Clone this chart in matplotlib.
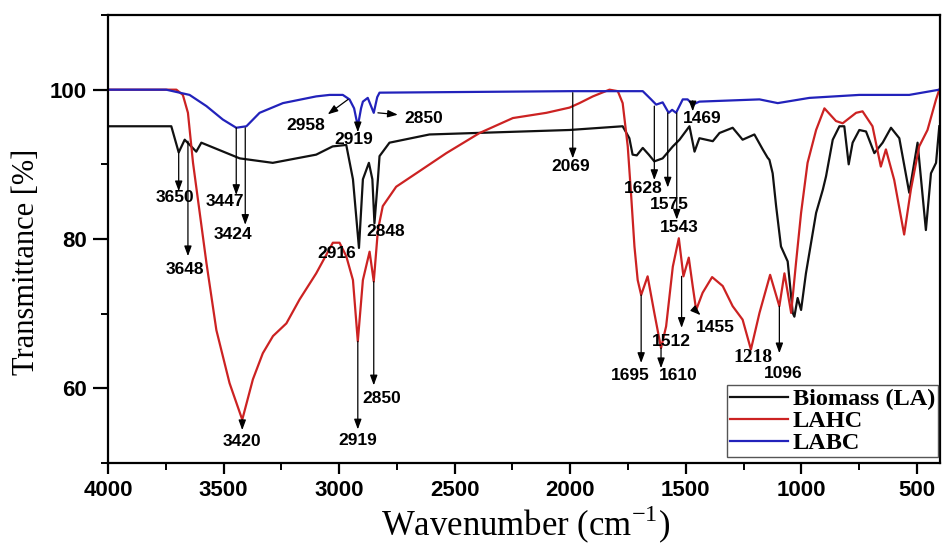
import matplotlib
matplotlib.use("Agg")
import matplotlib.pyplot as plt
from matplotlib.ticker import MultipleLocator

# Biomass (LA) spectrum
biomass_wn = [4000, 3726, 3694, 3668, 3618, 3596, 3430, 3287, 3099, 3028, 2969, 2940,
              2914, 2897, 2871, 2856, 2847, 2832, 2825, 2782, 2609, 2004, 1773, 1744,
              1730, 1712, 1686, 1660, 1636, 1600, 1556, 1527, 1484, 1462, 1441, 1383,
              1354, 1297, 1254, 1203, 1167, 1146, 1138, 1124, 1109, 1088, 1059, 1037,
              1030, 1016, 1001, 980, 936, 907, 893, 864, 835, 814, 795, 778, 749, 720,
              684, 648, 612, 576, 533, 497, 461, 439, 417, 403]
biomass_t = [95.1, 95.1, 91.6, 93.3, 91.7, 92.9, 90.8, 90.2, 91.3, 92.4, 92.6, 88.0,
             78.8, 88.0, 90.2, 88.0, 82.1, 88.0, 91.1, 92.9, 94.0, 94.6, 95.1, 93.5,
             91.3, 91.2, 92.2, 91.3, 90.4, 90.8, 92.4, 93.3, 95.1, 91.7, 93.5, 93.1,
             94.2, 94.9, 93.3, 94.0, 92.0, 90.9, 90.6, 88.8, 84.4, 79.0, 77.0, 70.1,
             69.6, 72.1, 70.5, 75.4, 83.5, 86.6, 88.4, 93.3, 95.1, 95.1, 90.0, 92.9,
             94.6, 94.4, 91.5, 92.9, 94.9, 93.5, 86.2, 92.9, 81.2, 88.8, 90.2, 95.1]

# LAHC spectrum
lahc_wn = [4000, 3704, 3676, 3654, 3632, 3603, 3574, 3531, 3474, 3419, 3373, 3330,
           3286, 3228, 3171, 3099, 3027, 2998, 2969, 2940, 2919, 2897, 2868, 2850,
           2832, 2811, 2753, 2666, 2536, 2392, 2248, 2103, 2003, 1960, 1902, 1830,
           1794, 1773, 1751, 1736, 1722, 1708, 1693, 1665, 1636, 1607, 1585, 1556,
           1530, 1510, 1487, 1470, 1455, 1427, 1386, 1340, 1297, 1254, 1218, 1181,
           1135, 1095, 1073, 1044, 1023, 1001, 973, 936, 900, 850, 821, 763, 735,
           692, 656, 634, 598, 555, 526, 490, 454, 417, 403]
lahc_t = [100.0, 100.0, 99.3, 96.9, 90.2, 83.5, 76.8, 67.8, 60.7, 55.8, 61.2, 64.7,
          67.0, 68.7, 71.9, 75.4, 79.5, 79.5, 77.7, 74.5, 66.3, 74.5, 78.3, 74.3,
          81.2, 84.4, 87.0, 88.8, 91.5, 94.2, 96.2, 96.9, 97.6, 98.2, 99.1, 100.0,
          99.8, 98.2, 92.4, 85.7, 79.0, 74.5, 72.5, 75.0, 70.1, 65.4, 68.3, 76.3,
          80.1, 75.0, 77.5, 73.7, 70.5, 72.8, 74.9, 73.7, 71.0, 69.2, 65.2, 70.1,
          75.2, 71.0, 75.4, 70.1, 76.8, 83.5, 90.2, 94.6, 97.5, 95.8, 95.5, 96.9, 97.1,
          95.1, 89.7, 92.0, 87.9, 80.6, 86.6, 92.4, 94.6, 98.7, 100.0]

# LABC spectrum
labc_wn = [4000, 3748, 3647, 3574, 3503, 3445, 3401, 3344, 3243, 3099, 3041, 2984,
           2955, 2935, 2919, 2905, 2897, 2876, 2850, 2835, 2825, 2004, 1686, 1650,
           1628, 1600, 1574, 1559, 1542, 1513, 1492, 1470, 1441, 1181, 1102, 965,
           749, 533, 403]
labc_t = [100.0, 100.0, 99.3, 97.8, 96.0, 94.9, 95.1, 96.9, 98.2, 99.1, 99.3, 99.3,
          98.7, 97.5, 95.1, 97.5, 98.4, 98.9, 96.9, 99.0, 99.6, 99.8, 99.8, 98.7,
          98.0, 98.3, 96.9, 97.3, 96.9, 98.7, 98.7, 98.0, 98.4, 98.7, 98.2, 98.9,
          99.3, 99.3, 100.0]

series_names = ["Biomass (LA)", "LAHC", "LABC"]
series_colors = ["#111111", "#cc2222", "#2222bb"]

# peak labels: text, arrow x, arrow start y, arrow end y, text x, text y
peak_arrows = [
    ("3650", 3694, 91.6, 86.4, 3711, 85.6),
    ("3648", 3654, 93.1, 77.7, 3668, 75.9),
    ("3447", 3445, 94.9, 85.9, 3495, 85.0),
    ("3424", 3406, 94.9, 81.9, 3459, 80.6),
    ("3420", 3419, 55.8, 54.4, 3419, 52.9),
    ("2919", 2919, 95.1, 94.3, 2935, 93.3),
    ("2919", 2919, 66.3, 54.5, 2919, 53.0),
    ("2850", 2850, 74.3, 60.4, 2815, 58.7),
    ("2069", 1989, 99.6, 90.8, 1996, 89.7),
    ("1628", 1636, 97.8, 87.9, 1683, 86.8),
    ("1575", 1578, 96.9, 86.9, 1571, 84.6),
    ("1543", 1539, 96.9, 82.6, 1528, 81.6),
    ("1469", 1470, 98.5, 97.1, 1427, 96.2),
    ("1695", 1693, 72.5, 63.4, 1741, 61.7),
    ("1610", 1607, 65.4, 62.7, 1532, 61.7),
    ("1512", 1518, 75.0, 68.1, 1561, 66.3),
    ("1096", 1095, 71.0, 64.7, 1078, 62.0),
]
# labels with a slanted arrow: text, tail x, tail y, head x, head y, text x, text y
slant_arrows = [
    ("2958", 2961, 98.7, 3049, 96.7, 3146, 95.2),
    ("2850", 2832, 96.9, 2746, 96.65, 2634, 96.1),
    ("1455", 1464, 70.6, 1436, 69.8, 1373, 68.2),
]
# labels without arrows
plain_labels = [("2916", 3010, 78.1), ("2848", 2800, 81.0)]

sans = "Liberation Sans"
serif = "Liberation Serif"

fig = plt.figure(figsize=(9.43, 5.5), dpi=100)
ax = fig.add_axes([0.1145, 0.1582, 0.8823, 0.8145])

for wn, t, name, c in zip([biomass_wn, lahc_wn, labc_wn], [biomass_t, lahc_t, labc_t],
                          series_names, series_colors):
    ax.plot(wn, t, color=c, lw=1.6, label=name)

ax.set_xlim(4000, 400)
ax.set_ylim(50, 110)
ax.xaxis.set_major_locator(MultipleLocator(500))
ax.xaxis.set_minor_locator(MultipleLocator(250))
ax.yaxis.set_major_locator(MultipleLocator(20))
ax.yaxis.set_minor_locator(MultipleLocator(10))
ax.tick_params(which="major", direction="out", length=8, width=1.6, pad=4)
ax.tick_params(which="minor", direction="out", length=5, width=1.4)
ax.tick_params(axis="y", which="major", length=11)
for lab in ax.get_xticklabels() + ax.get_yticklabels():
    lab.set_fontfamily(sans)
    lab.set_fontweight("bold")
    lab.set_fontsize(16)
for sp in ax.spines.values():
    sp.set_linewidth(1.6)

ax.set_xlabel("Wavenumber (cm$^{\\mathregular{-1}}$)", fontfamily=serif, fontsize=25, va="center")
ax.xaxis.set_label_coords(0.502, -0.138)
ax.set_ylabel("Transmittance [%]", fontfamily=serif, fontsize=22, va="center")
ax.yaxis.set_label_coords(-0.098, 0.449)

arrow_style = dict(arrowstyle="-|>,head_length=0.6,head_width=0.22", color="black",
                   lw=0.9, mutation_scale=10, shrinkA=0, shrinkB=0)
txt_style = dict(fontfamily=sans, fontweight="bold", fontsize=12.5, ha="center", va="center")

for lab, x, y0, y1, tx, ty in peak_arrows:
    ax.annotate("", xy=(x, y1), xytext=(x, y0), arrowprops=arrow_style)
    ax.text(tx, ty, lab, **txt_style)
for lab, x0, y0, x1, y1, tx, ty in slant_arrows:
    ax.annotate("", xy=(x1, y1), xytext=(x0, y0), arrowprops=arrow_style)
    ax.text(tx, ty, lab, **txt_style)
for lab, tx, ty in plain_labels:
    ax.text(tx, ty, lab, **txt_style)
ax.text(1207, 64.1, "1218", fontfamily=serif, fontweight="bold", fontsize=14,
        ha="center", va="center")

leg = ax.legend(loc="lower right", bbox_to_anchor=(0.998, 0.013), borderaxespad=0,
                prop={"family": serif, "weight": "bold", "size": 17.5},
                handlelength=2.4, handletextpad=0.2, labelspacing=0.0,
                borderpad=0.12, fancybox=False, framealpha=1, edgecolor="#555555")
leg.get_frame().set_linewidth(1.0)

fig.savefig("out.png", dpi=100)
